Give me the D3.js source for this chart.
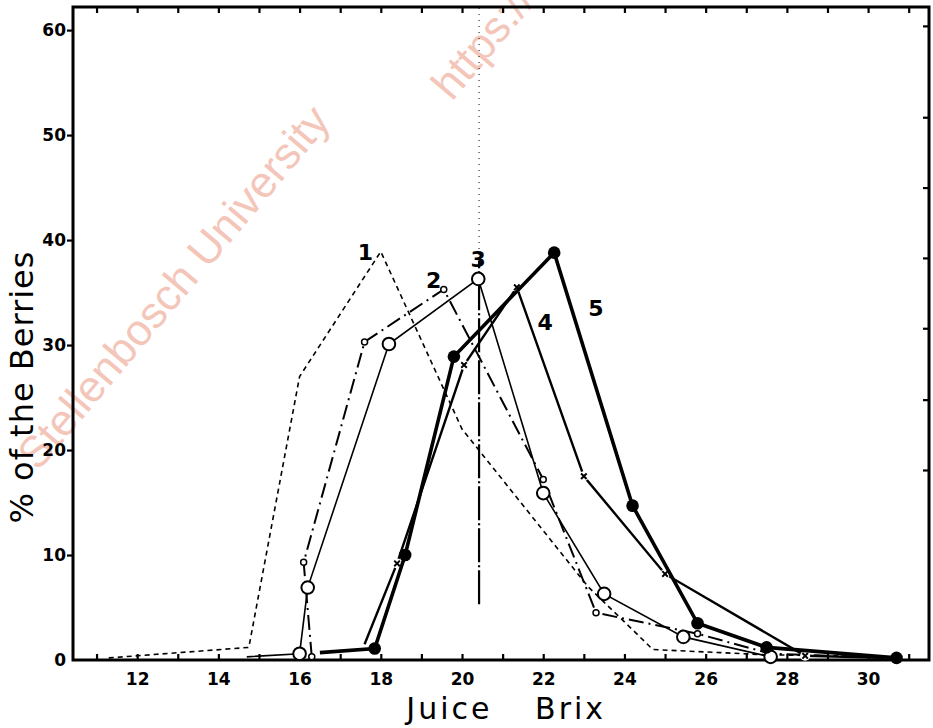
<!DOCTYPE html>
<html>
<head>
<meta charset="utf-8">
<script src="https://cdn.jsdelivr.net/npm/d3@7"></script>
<style>
  html, body { margin: 0; padding: 0; background: #fff; }
  svg { display: block; }
</style>
</head>
<body>
<svg id="chart" width="933" height="728"></svg>
<script>
// ---- data (Brix, % of berries) ----
const series1 = [[11.3,0.2],[14.75,1.2],[16.0,27.0],[18.0,38.9],[20.0,22.0],[23.1,7.0],[24.7,1.0],[27.5,0.5],[30.5,0.3]];
const series2 = [[16.3,0.3],[16.1,9.3],[17.6,30.3],[19.55,35.3],[22.0,17.2],[23.3,4.5],[25.8,2.5],[27.6,0.6],[30.5,0.2]];
const series3 = [[14.7,0.3],[16.0,0.6],[16.2,6.9],[18.2,30.1],[20.4,36.3],[22.0,15.9],[23.5,6.3],[25.45,2.2],[27.6,0.3]];
const series4 = [[17.6,1.5],[18.4,9.2],[20.05,28.1],[21.35,35.5],[23.0,17.5],[25.0,8.2],[28.45,0.4],[30.4,0.2]];
const series5 = [[16.5,0.7],[17.85,1.1],[18.6,10.0],[19.8,28.9],[22.27,38.8],[24.2,14.7],[25.8,3.5],[27.5,1.2],[30.7,0.2]];
const curveLabels = ["1","2","3","4","5"];
const labelX = [17.62, 19.3, 20.4, 22.05, 23.3];
const labelY = [38.1, 35.4, 37.4, 31.4, 32.8];
const xTicks = d3.range(11, 32, 1);
const xLabels = [12,14,16,18,20,22,24,26,28,30];
const yTicks = [0,10,20,30,40,50,60];
const rightTicks = [18.1,24.8,31.6,38.3,45.0,51.7,60.4];
const markerBrix = 20.42;
const markerFrom = 5.3;
const xTitle = ["Juice", "Brix"];
const yTitle = "% of the Berries";
const watermarkLines = ["Stellenbosch University", "https://scholar.sun.ac.za"];

// ---- layout ----
const svg = d3.select("#chart");
const L = 73, R = 929, T = 7, B = 660;
const x = d3.scaleLinear().domain([10.42, 31.5]).range([L, R]);
const y = d3.scaleLinear().domain([0, 62.2]).range([B, T]);

// watermark
const wmPos = [[38, 472], [452, 102]];
svg.selectAll(".wm").data(watermarkLines).enter().append("text")
  .attr("transform", (d, i) => `translate(${wmPos[i][0]},${wmPos[i][1]}) rotate(-50)`)
  .attr("font-family", "Liberation Sans, Arial, sans-serif")
  .attr("font-size", 44)
  .attr("fill", "#f4c6ba")
  .text(d => d);

const tickFont = "DejaVu Sans, sans-serif";

// bottom axis
const gx = svg.append("g").attr("transform", `translate(0,${B})`)
  .call(d3.axisBottom(x).tickValues(xTicks).tickSize(-6).tickPadding(13)
    .tickFormat(d => xLabels.includes(d) ? d : ""));
// top axis
const gt = svg.append("g").attr("transform", `translate(0,${T})`)
  .call(d3.axisTop(x).tickValues(xTicks).tickSize(-6).tickFormat(""));
// left axis
const gy = svg.append("g").attr("transform", `translate(${L},0)`)
  .call(d3.axisLeft(y).tickValues(yTicks).tickSize(6).tickPadding(1));
gy.selectAll(".tick").filter(d => d === 0).select("line").remove();
// right axis
const gr = svg.append("g").attr("transform", `translate(${R},0)`)
  .call(d3.axisRight(y).tickValues(rightTicks).tickSize(-6).tickFormat(""));

[gx, gt, gy, gr].forEach(g => {
  g.select(".domain").remove();
  g.selectAll(".tick line").attr("stroke", "#000").attr("stroke-width", 2.2);
  g.selectAll(".tick text").attr("font-family", tickFont).attr("font-weight", "bold")
    .attr("font-size", 17).attr("fill", "#000");
});

// frame
svg.append("rect").attr("x", L).attr("y", T).attr("width", R - L).attr("height", B - T)
  .attr("fill", "none").attr("stroke", "#000").attr("stroke-width", 3);

// vertical marker line
svg.append("line")
  .attr("x1", x(markerBrix)).attr("x2", x(markerBrix))
  .attr("y1", y(markerFrom)).attr("y2", y(38))
  .attr("stroke", "#000").attr("stroke-width", 2.2).attr("stroke-dasharray", "34,3,2,3");
svg.append("line")
  .attr("x1", x(markerBrix)).attr("x2", x(markerBrix))
  .attr("y1", y(38)).attr("y2", y(62.2))
  .attr("stroke", "#000").attr("stroke-width", 1).attr("stroke-dasharray", "1,5");

const line = d3.line().x(d => x(d[0])).y(d => y(d[1]));

// series 1: short dashes
svg.append("path").datum(series1).attr("d", line).attr("fill", "none")
  .attr("stroke", "#000").attr("stroke-width", 1.6).attr("stroke-dasharray", "5,4");

// series 2: dash-dot, small open circles
svg.append("path").datum(series2).attr("d", line).attr("fill", "none")
  .attr("stroke", "#000").attr("stroke-width", 2).attr("stroke-dasharray", "15,5,2,5");
svg.selectAll(".m2").data(series2.slice(0, 7)).enter().append("circle")
  .attr("cx", d => x(d[0])).attr("cy", d => y(d[1])).attr("r", 3)
  .attr("fill", "#fff").attr("stroke", "#000").attr("stroke-width", 1.5);

// series 3: thin solid, large open circles
svg.append("path").datum(series3).attr("d", line).attr("fill", "none")
  .attr("stroke", "#000").attr("stroke-width", 1.6);
svg.selectAll(".m3").data(series3.slice(1)).enter().append("circle")
  .attr("cx", d => x(d[0])).attr("cy", d => y(d[1])).attr("r", 6.3)
  .attr("fill", "#fff").attr("stroke", "#000").attr("stroke-width", 2);

// series 4: medium solid, x markers
svg.append("path").datum(series4).attr("d", line).attr("fill", "none")
  .attr("stroke", "#000").attr("stroke-width", 2.4);
svg.selectAll(".m4g").data(series4.slice(1, 7)).enter().append("circle")
  .attr("cx", d => x(d[0])).attr("cy", d => y(d[1])).attr("r", 5).attr("fill", "#fff");
svg.selectAll(".m4").data(series4.slice(1, 7)).enter().append("path")
  .attr("transform", d => `translate(${x(d[0])},${y(d[1])})`)
  .attr("d", d3.symbol(d3.symbolX, 22))
  .attr("fill", "none").attr("stroke", "#000").attr("stroke-width", 2);

// series 5: thick solid, filled circles
svg.append("path").datum(series5).attr("d", line).attr("fill", "none")
  .attr("stroke", "#000").attr("stroke-width", 3.6);
svg.selectAll(".m5").data(series5.slice(1)).enter().append("circle")
  .attr("cx", d => x(d[0])).attr("cy", d => y(d[1])).attr("r", 6.3)
  .attr("fill", "#000");

// curve labels
svg.selectAll(".cl").data(curveLabels).enter().append("text")
  .attr("x", (d, i) => x(labelX[i])).attr("y", (d, i) => y(labelY[i]))
  .attr("text-anchor", "middle").attr("font-family", tickFont)
  .attr("font-weight", "bold").attr("font-size", 22).text(d => d);

// axis titles
svg.append("text").attr("x", x(20.75)).attr("y", 719).attr("text-anchor", "end")
  .attr("font-family", tickFont).attr("font-size", 30).attr("letter-spacing", 3).text(xTitle[0]);
svg.append("text").attr("x", x(21.8)).attr("y", 719).attr("text-anchor", "start")
  .attr("font-family", tickFont).attr("font-size", 30).attr("letter-spacing", 3).text(xTitle[1]);
svg.append("text")
  .attr("transform", `translate(33,${(y(20) + y(40)) / 2 + 42}) rotate(-90)`)
  .attr("text-anchor", "middle").attr("font-family", tickFont)
  .attr("font-size", 32).attr("letter-spacing", 1).text(yTitle);
</script>
</body>
</html>
